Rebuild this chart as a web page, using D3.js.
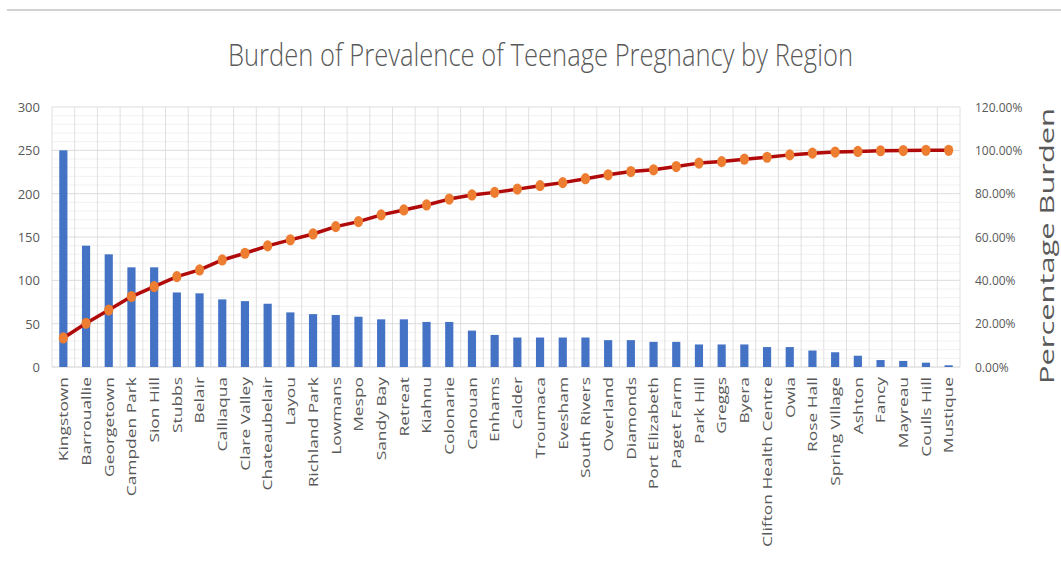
<!DOCTYPE html>
<html>
<head>
<meta charset="utf-8">
<script src="https://cdn.jsdelivr.net/npm/d3@7"></script>
<style>
  html, body { margin: 0; padding: 0; background: #ffffff; }
  svg { display: block; }
  text { font-family: "Open Sans", "Liberation Sans", sans-serif; }
</style>
</head>
<body>
<svg id="chart" width="1061" height="565"></svg>
<script>
// Regions, ordered by number of teenage pregnancies
const regions = [
  "Kingstown", "Barrouallie", "Georgetown", "Campden Park", "Sion Hill",
  "Stubbs", "Belair", "Calliaqua", "Clare Valley", "Chateaubelair",
  "Layou", "Richland Park", "Lowmans", "Mespo", "Sandy Bay",
  "Retreat", "Kiahnu", "Colonarie", "Canouan", "Enhams",
  "Calder", "Troumaca", "Evesham", "South Rivers", "Overland",
  "Diamonds", "Port Elizabeth", "Paget Farm", "Park Hill", "Greggs",
  "Byera", "Clifton Health Centre", "Owia", "Rose Hall", "Spring Village",
  "Ashton", "Fancy", "Mayreau", "Coulls Hill", "Mustique"
];

// Number of cases per region
const cases = [
  250, 140, 130, 115, 115,
  86, 85, 78, 76, 73,
  63, 61, 60, 58, 55,
  55, 52, 52, 42, 37,
  34, 34, 34, 34, 31,
  31, 29, 29, 26, 26,
  26, 23, 23, 19, 17,
  13, 8, 7, 5, 2
];

// Cumulative percentage burden (fraction of total)
const cumulative = [
  0.134, 0.202, 0.263, 0.325, 0.371,
  0.417, 0.448, 0.494, 0.525, 0.559,
  0.587, 0.614, 0.648, 0.671, 0.702,
  0.725, 0.748, 0.775, 0.794, 0.806,
  0.821, 0.837, 0.851, 0.869, 0.887,
  0.902, 0.910, 0.925, 0.941, 0.948,
  0.959, 0.968, 0.979, 0.987, 0.992,
  0.995, 0.998, 0.999, 1.000, 1.000
];

const leftTicks = [0, 50, 100, 150, 200, 250, 300];
const rightTicks = [0, 0.2, 0.4, 0.6, 0.8, 1.0, 1.2];

const titleText = "Burden of Prevalence of Teenage Pregnancy by Region";
const rightTitle = "Percentage Burden";

const svg = d3.select("#chart");
const plot = { left: 52, right: 960, top: 107, bottom: 367 };
const textColor = "#595959";

const x = d3.scaleBand()
  .domain(regions)
  .range([plot.left, plot.right])
  .paddingInner(0.64)
  .paddingOuter(0.32);

const y = d3.scaleLinear().domain([0, 300]).range([plot.bottom, plot.top]);
const y2 = d3.scaleLinear().domain([0, 1.2]).range([plot.bottom, plot.top]);

// top rule
svg.append("line")
  .attr("x1", 7).attr("x2", 1061)
  .attr("y1", 10).attr("y2", 10)
  .attr("stroke", "#d2d2d2").attr("stroke-width", 2);

// minor horizontal grid
const grid = svg.append("g");
grid.selectAll("line.minor")
  .data(d3.range(0, 301, 10).filter(v => v % 50 !== 0))
  .join("line")
  .attr("x1", plot.left).attr("x2", plot.right)
  .attr("y1", d => y(d)).attr("y2", d => y(d))
  .attr("stroke", "#f1f1f1").attr("stroke-width", 1);

// vertical grid at category boundaries
const step = x.step();
grid.selectAll("line.vert")
  .data(d3.range(0, regions.length + 1))
  .join("line")
  .attr("x1", i => plot.left + i * step).attr("x2", i => plot.left + i * step)
  .attr("y1", plot.top).attr("y2", plot.bottom)
  .attr("stroke", "#e0e0e0").attr("stroke-width", 1);

// major horizontal grid
grid.selectAll("line.major")
  .data(leftTicks)
  .join("line")
  .attr("x1", plot.left).attr("x2", plot.right)
  .attr("y1", d => y(d)).attr("y2", d => y(d))
  .attr("stroke", d => d === 0 ? "#d0d0d0" : "#dcdcdc").attr("stroke-width", 1);

// bars
svg.append("g")
  .selectAll("rect")
  .data(regions)
  .join("rect")
  .attr("x", d => x(d))
  .attr("width", x.bandwidth())
  .attr("y", (d, i) => y(cases[i]))
  .attr("height", (d, i) => y(0) - y(cases[i]))
  .attr("fill", "#4472c4");

// cumulative line
const line = d3.line()
  .x((d, i) => x(regions[i]) + x.bandwidth() / 2)
  .y(d => y2(d));

svg.append("path")
  .datum(cumulative)
  .attr("d", line)
  .attr("fill", "none")
  .attr("stroke", "#b00a0a")
  .attr("stroke-width", 3.5)
  .attr("stroke-linejoin", "round");

svg.append("g")
  .selectAll("ellipse")
  .data(cumulative)
  .join("ellipse")
  .attr("cx", (d, i) => x(regions[i]) + x.bandwidth() / 2)
  .attr("cy", d => y2(d))
  .attr("rx", 4.6).attr("ry", 5.6)
  .attr("fill", "#ed7d31");

// left axis
const leftAxis = d3.axisLeft(y).tickValues(leftTicks).tickSize(0).tickPadding(0);
const gL = svg.append("g").attr("transform", "translate(40,0)").call(leftAxis);
gL.select(".domain").remove();
gL.selectAll("text")
  .attr("fill", textColor)
  .style("font-size", "13px")
  .attr("dy", "0.35em");

// right axis
const rightAxis = d3.axisRight(y2).tickValues(rightTicks).tickFormat(d3.format(".2%")).tickSize(0).tickPadding(0);
const gR = svg.append("g").attr("transform", "translate(975,0)").call(rightAxis);
gR.select(".domain").remove();
gR.selectAll("text")
  .attr("fill", textColor)
  .style("font-size", "12px")
  .attr("dy", "0.35em");

// category labels, rotated and stretched along their length
svg.append("g")
  .selectAll("text")
  .data(regions)
  .join("text")
  .attr("transform", d => `translate(${x(d) + x.bandwidth() / 2},377) rotate(-90) scale(1.45,1)`)
  .attr("text-anchor", "end")
  .attr("dominant-baseline", "central")
  .attr("fill", textColor)
  .style("font-size", "12px")
  .text(d => d);

// title
svg.append("text")
  .attr("transform", "translate(540.5,66) scale(1,1.25)")
  .attr("text-anchor", "middle")
  .attr("fill", textColor)
  .style("font-size", "25px")
  .style("font-weight", "300")
  .attr("textLength", 625)
  .attr("lengthAdjust", "spacingAndGlyphs")
  .text(titleText);

// right axis title
svg.append("text")
  .attr("transform", "translate(1054,246) rotate(-90)")
  .attr("text-anchor", "middle")
  .attr("fill", textColor)
  .style("font-size", "20px")
  .attr("textLength", 276)
  .attr("lengthAdjust", "spacingAndGlyphs")
  .text(rightTitle);
</script>
</body>
</html>
